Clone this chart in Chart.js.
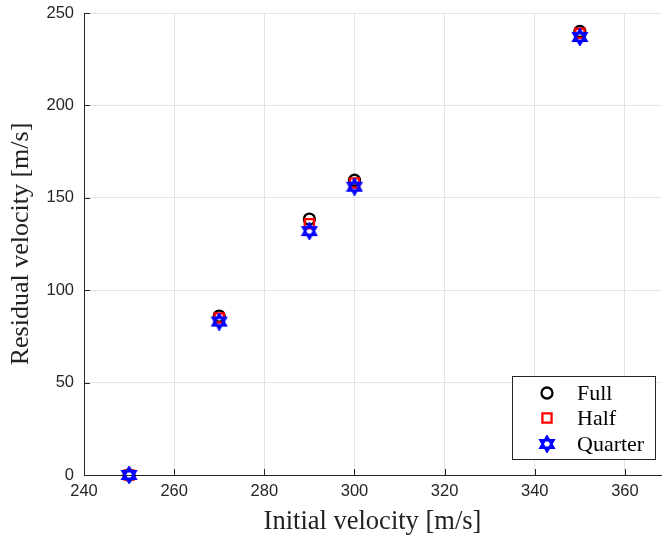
<!DOCTYPE html>
<html>
<head>
<meta charset="utf-8">
<script src="https://cdn.jsdelivr.net/npm/chart.js@4.4.1/dist/chart.umd.min.js"></script>
<style>
  html, body { margin: 0; padding: 0; background: #fff; }
  #wrap { width: 662px; height: 538px; }
</style>
</head>
<body>
<div id="wrap"><canvas id="velChart" width="662" height="538"></canvas></div>
<script>
const initialVelocity = [250, 270, 290, 300, 350];
const fullResidual = [0, 86, 138.5, 159.5, 240];
const halfResidual = [0, 85, 136, 158, 239];
const quarterResidual = [0, 83, 132, 156, 237];
const xTicks = [240, 260, 280, 300, 320, 340, 360];
const yTicks = [0, 50, 100, 150, 200, 250];

const axisColor = '#262626';
const gridColor = '#e3e3e3';
const serif = '"Liberation Serif", "DejaVu Serif", serif';
const sans = '"Liberation Sans", Arial, sans-serif';

// hexagram marker (matlab 'h')
function makeHexagram(color) {
    const c = document.createElement('canvas');
    c.width = 18;
    c.height = 18;
    const g = c.getContext('2d');
    const cx = 9, cy = 9, r = 7.5;
    g.strokeStyle = color;
    g.lineWidth = 2.4;
    g.lineJoin = 'miter';
    for (const start of [-Math.PI / 2, Math.PI / 2]) {
        g.beginPath();
        for (let i = 0; i < 3; i++) {
            const a = start + i * 2 * Math.PI / 3;
            const px = cx + r * Math.cos(a), py = cy + r * Math.sin(a);
            if (i === 0) g.moveTo(px, py); else g.lineTo(px, py);
        }
        g.closePath();
        g.stroke();
    }
    return c;
}
const hexMarker = makeHexagram('#0000ff');

function toPoints(ys) {
    return initialVelocity.map((x, i) => ({ x: x, y: ys[i] }));
}

function keepTicks(list) {
    return scale => {
        scale.ticks = list.map(v => ({ value: v }));
    };
}

const inwardTicks = {
    id: 'inwardTicks',
    afterDatasetsDraw(chart) {
        const { ctx, chartArea, scales } = chart;
        ctx.save();
        ctx.strokeStyle = axisColor;
        ctx.lineWidth = 1;
        ctx.beginPath();
        scales.x.ticks.forEach(t => {
            const px = Math.round(scales.x.getPixelForValue(t.value)) + 0.5;
            ctx.moveTo(px, chartArea.bottom);
            ctx.lineTo(px, chartArea.bottom - 6);
        });
        scales.y.ticks.forEach(t => {
            const py = Math.round(scales.y.getPixelForValue(t.value)) + 0.5;
            ctx.moveTo(chartArea.left, py);
            ctx.lineTo(chartArea.left + 6, py);
        });
        ctx.stroke();
        ctx.restore();
    }
};

const boxLegend = {
    id: 'boxLegend',
    afterDraw(chart) {
        const { ctx } = chart;
        const x0 = 512.5, y0 = 376.5, w = 143, h = 83;
        ctx.save();
        ctx.fillStyle = '#fff';
        ctx.fillRect(x0, y0, w, h);
        ctx.strokeStyle = axisColor;
        ctx.lineWidth = 1;
        ctx.strokeRect(x0, y0, w, h);
        const rows = [393, 418, 444];
        chart.data.datasets.forEach((ds, i) => {
            ctx.strokeStyle = ds.borderColor;
            ctx.fillStyle = ds.backgroundColor;
            ctx.lineWidth = ds.borderWidth;
            Chart.helpers.drawPoint(ctx, {
                pointStyle: ds.pointStyle,
                radius: ds.pointRadius,
                rotation: 0,
                borderWidth: ds.borderWidth
            }, 547, rows[i]);
            ctx.fillStyle = '#000';
            ctx.font = '22px ' + serif;
            ctx.textBaseline = 'middle';
            ctx.textAlign = 'left';
            ctx.fillText(ds.label, 577, rows[i] + 1);
        });
        ctx.restore();
    }
};

new Chart(document.getElementById('velChart').getContext('2d'), {
    type: 'scatter',
    data: {
        datasets: [
            {
                label: 'Full',
                data: toPoints(fullResidual),
                pointStyle: 'circle',
                pointRadius: 5.5,
                borderColor: '#000000',
                backgroundColor: 'rgba(0,0,0,0)',
                borderWidth: 2.3,
                order: 3,
                clip: false
            },
            {
                label: 'Half',
                data: toPoints(halfResidual),
                pointStyle: 'rect',
                pointRadius: 6.5,
                borderColor: '#ff0000',
                backgroundColor: 'rgba(0,0,0,0)',
                borderWidth: 2.3,
                order: 2,
                clip: false
            },
            {
                label: 'Quarter',
                data: toPoints(quarterResidual),
                pointStyle: hexMarker,
                pointRadius: 7,
                borderColor: '#0000ff',
                backgroundColor: 'rgba(0,0,0,0)',
                borderWidth: 2,
                order: 1,
                clip: false
            }
        ]
    },
    options: {
        responsive: false,
        animation: false,
        layout: { autoPadding: false, padding: { top: 13, right: 1, left: 0, bottom: 0 } },
        plugins: {
            legend: { display: false },
            tooltip: { enabled: false }
        },
        scales: {
            x: {
                type: 'linear',
                min: 240,
                max: 368,
                afterBuildTicks: keepTicks(xTicks),
                afterFit: scale => {
                    scale.height = 63;
                    scale.paddingLeft = 0;
                    scale.paddingRight = 0;
                },
                grid: { color: gridColor, drawTicks: false },
                border: { color: axisColor, width: 1 },
                ticks: {
                    padding: 7,
                    color: axisColor,
                    font: { family: sans, size: 16.5 }
                },
                title: {
                    display: true,
                    text: 'Initial velocity [m/s]',
                    color: '#222',
                    font: { family: serif, size: 26.5 },
                    padding: { top: 0, bottom: 0 }
                }
            },
            y: {
                type: 'linear',
                min: 0,
                max: 250,
                afterBuildTicks: keepTicks(yTicks),
                afterFit: scale => {
                    scale.width = 84;
                    scale.paddingTop = 0;
                    scale.paddingBottom = 0;
                },
                grid: { color: gridColor, drawTicks: false },
                border: { color: axisColor, width: 1 },
                ticks: {
                    padding: 10,
                    color: axisColor,
                    font: { family: sans, size: 16.5 }
                },
                title: {
                    display: true,
                    text: 'Residual velocity [m/s]',
                    color: '#222',
                    font: { family: serif, size: 26 },
                    padding: { top: 6, bottom: 0 }
                }
            }
        }
    },
    plugins: [inwardTicks, boxLegend]
});
</script>
</body>
</html>
